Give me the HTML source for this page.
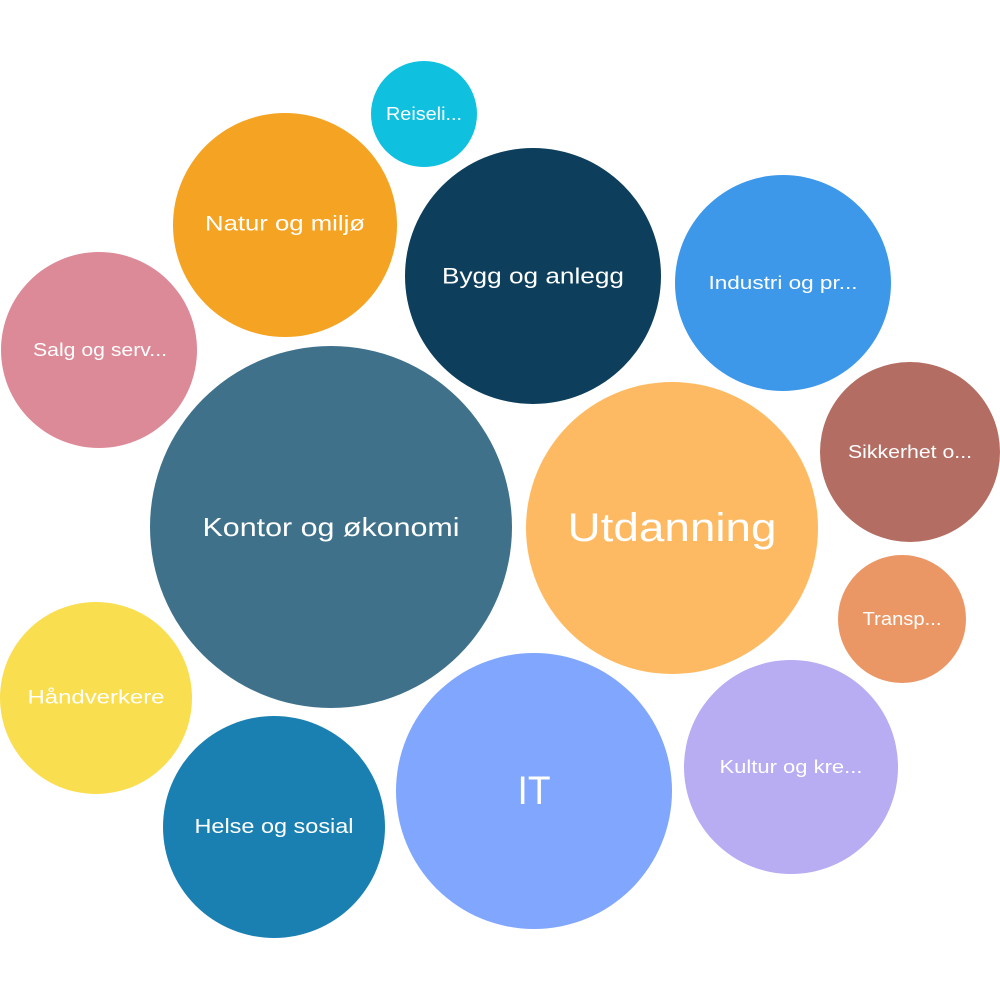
<!DOCTYPE html>
<html><head><meta charset="utf-8"><style>
html,body{margin:0;padding:0;background:#fff;}
</style></head><body>
<svg width="1000" height="1000" viewBox="0 0 1000 1000" xmlns="http://www.w3.org/2000/svg" font-family="'Liberation Sans', sans-serif" fill="#fff" text-anchor="middle" dominant-baseline="central">
<circle cx="424" cy="114" r="53" fill="#10C0DF"/><text x="424" y="114" font-size="18" textLength="76" lengthAdjust="spacingAndGlyphs">Reiseli...</text>
<circle cx="285" cy="225" r="112" fill="#F4A322"/><text x="285" y="224" font-size="21" textLength="160" lengthAdjust="spacingAndGlyphs">Natur og miljø</text>
<circle cx="533" cy="276" r="128" fill="#0D3F5C"/><text x="533" y="276" font-size="22" textLength="182" lengthAdjust="spacingAndGlyphs">Bygg og anlegg</text>
<circle cx="783" cy="283" r="108" fill="#3D98EA"/><text x="783" y="283" font-size="18" textLength="149" lengthAdjust="spacingAndGlyphs">Industri og pr...</text>
<circle cx="99" cy="350" r="98" fill="#DD8A98"/><text x="100" y="350" font-size="18" textLength="134" lengthAdjust="spacingAndGlyphs">Salg og serv...</text>
<circle cx="331" cy="527" r="181" fill="#3F718B"/><text x="331" y="527" font-size="26" textLength="257" lengthAdjust="spacingAndGlyphs">Kontor og økonomi</text>
<circle cx="672" cy="528" r="146" fill="#FEBA63"/><text x="672" y="528" font-size="40" textLength="209" lengthAdjust="spacingAndGlyphs">Utdanning</text>
<circle cx="910" cy="452" r="90" fill="#B36D62"/><text x="910" y="452" font-size="18" textLength="124" lengthAdjust="spacingAndGlyphs">Sikkerhet o...</text>
<circle cx="902" cy="619" r="64" fill="#EB9665"/><text x="902" y="619" font-size="18" textLength="79" lengthAdjust="spacingAndGlyphs">Transp...</text>
<circle cx="96" cy="698" r="96" fill="#F9DE50"/><text x="96" y="698" font-size="19" textLength="137" lengthAdjust="spacingAndGlyphs">Håndverkere</text>
<circle cx="274" cy="827" r="111" fill="#1A80B2"/><text x="274" y="827" font-size="20" textLength="159" lengthAdjust="spacingAndGlyphs">Helse og sosial</text>
<circle cx="534" cy="791" r="138" fill="#80A7FD"/><text x="534" y="791" font-size="40" textLength="33" lengthAdjust="spacingAndGlyphs">IT</text>
<circle cx="791" cy="767" r="107" fill="#B8ACF2"/><text x="791" y="767" font-size="18" textLength="143" lengthAdjust="spacingAndGlyphs">Kultur og kre...</text>
</svg>
</body></html>
